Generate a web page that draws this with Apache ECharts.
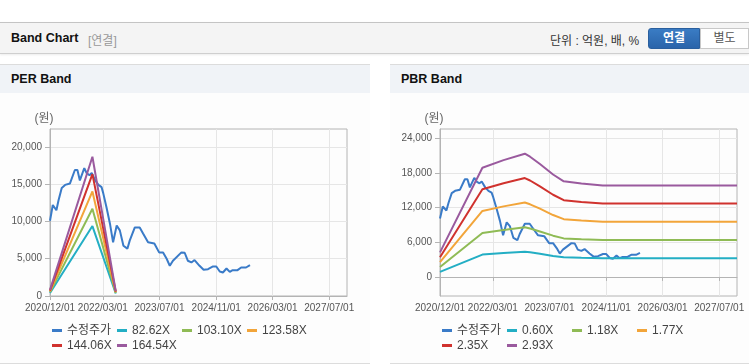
<!DOCTYPE html>
<html>
<head>
<meta charset="utf-8">
<script src="https://cdn.jsdelivr.net/npm/echarts@6/dist/echarts.min.js"></script>
<style>
    html, body { margin: 0; padding: 0; background: #fff; }
    body { width: 749px; height: 364px; overflow: hidden; position: relative;
           font-family: "Liberation Sans", Arial, "Noto Sans CJK KR", sans-serif; }
    .top { position: absolute; left: 0; top: 22px; width: 749px; height: 30px;
           background: #f4f4f4; border-top: 1px solid #c4c4c4; border-bottom: 1px solid #cfcfcf;
           box-shadow: 0 1px 2px rgba(0,0,0,.08); }
    .top .ttl { position: absolute; left: 11px; top: 8px; font-size: 12.5px; font-weight: bold; color: #111; }
    .top .sub { position: absolute; left: 88px; top: 8px; font-size: 12px; color: #999; }
    .top .unit { position: absolute; left: 550px; top: 8px; font-size: 12px; color: #333; }
    .top .btn { position: absolute; top: 5px; height: 19px; line-height: 19px; font-size: 12px; text-align: center; }
    .top .on { left: 648px; width: 52px; background: linear-gradient(#3a7cc4, #2a64aa); color: #fff;
               font-weight: bold; border-radius: 3px 0 0 3px; border: 1px solid #2a5f9e; box-sizing: border-box; height: 21px; }
    .top .off { left: 700px; width: 49px; background: #fff; color: #555; border: 1px solid #c8c8c8;
                box-sizing: border-box; height: 21px; }
    .panel { position: absolute; top: 64px; height: 298px; border-top: 1px solid #dcdcdc;
             border-bottom: 1px solid #dcdcdc; background: #fdfdfd; }
    .panel .ph { height: 28px; line-height: 28px; background: #f0f3f7; padding-left: 11px;
                 font-size: 12.5px; font-weight: bold; color: #111; }
    #p1 { left: 0; width: 370px; }
    #p2 { left: 390px; width: 359px; }
    .cv { position: absolute; left: 0; top: 29px; width: 100%; height: 269px; }
</style>
</head>
<body>
<div class="top">
    <span class="ttl">Band Chart</span><span class="sub">[연결]</span>
    <span class="unit">단위 : 억원, 배, %</span>
    <span class="btn on">연결</span><span class="btn off">별도</span>
</div>
<div class="panel" id="p1"><div class="ph">PER Band</div><div id="chartPer" class="cv"></div></div>
<div class="panel" id="p2"><div class="ph">PBR Band</div><div id="chartPbr" class="cv"></div></div>
<script>
//---- x축 ----
var axisStart = '2020/12/01';
var axisEnd = '2027/12/01';
var tickDates = ['2020/12/01', '2022/03/01', '2023/07/01', '2024/11/01', '2026/03/01', '2027/07/01'];

//---- 수정주가 ----
var priceDates = ['2020/12/01', '2020/12/25', '2021/01/25', '2021/02/12', '2021/03/12', '2021/04/10',
    '2021/05/22', '2021/06/06', '2021/07/03', '2021/07/25', '2021/08/15', '2021/09/01', '2021/09/22',
    '2021/10/12', '2021/11/06', '2021/11/25', '2021/12/25', '2022/01/22', '2022/02/18', '2022/03/04',
    '2022/04/01', '2022/05/01', '2022/05/28', '2022/06/28', '2022/07/25', '2022/08/25', '2022/09/28',
    '2022/10/18', '2022/12/01', '2023/01/12', '2023/02/10', '2023/03/25', '2023/05/18', '2023/06/03',
    '2023/06/28', '2023/08/01', '2023/09/01', '2023/09/28', '2023/10/25', '2024/01/06', '2024/02/03',
    '2024/03/01', '2024/04/01', '2024/04/28', '2024/06/10', '2024/07/15', '2024/08/22', '2024/10/04',
    '2024/11/01', '2024/12/01', '2024/12/28', '2025/01/28', '2025/02/25', '2025/03/22', '2025/05/03',
    '2025/06/03', '2025/07/15', '2025/08/18'];
var priceValues = [10100, 12200, 11500, 12800, 14500, 14900,
    15100, 15300, 16900, 16900, 15500, 15300, 17150,
    16500, 16200, 16500, 15500, 14900, 14600, 13800,
    11900, 9700, 7200, 9460, 8800, 6750, 6350,
    7430, 9200, 9200, 8380, 7200, 7030, 7100,
    5850, 5850, 5000, 4050, 4730, 5850, 5800,
    4730, 4500, 4820, 4050, 3510, 3600, 3960,
    3960, 3280, 3150, 3690, 3240, 3470, 3470,
    3820, 3820, 4150];

//---- PER Band ----
var perNames = ['82.62X', '103.10X', '123.58X', '144.06X', '164.54X'];
var perDates = ['2020/12/01', '2021/12/01', '2022/06/20'];
var per1 = [410, 9380, 330];
var per2 = [520, 11700, 410];
var per3 = [620, 14030, 490];
var per4 = [720, 16350, 580];
var per5 = [820, 18680, 660];
var perTicks = [0, 5000, 10000, 15000, 20000];

//---- PBR Band ----
var pbrNames = ['0.60X', '1.18X', '1.77X', '2.35X', '2.93X'];
var pbrDates = ['2020/12/01', '2021/12/01', '2022/06/01', '2022/12/01', '2023/01/15', '2023/04/10',
    '2023/08/01', '2023/11/01', '2024/04/01', '2024/10/01', '2027/12/01'];
var pbr1 = [870, 3870, 4140, 4370, 4260, 4000, 3630, 3390, 3310, 3240, 3240];
var pbr2 = [1710, 7610, 8140, 8590, 8380, 7870, 7140, 6670, 6510, 6370, 6370];
var pbr3 = [2570, 11420, 12210, 12890, 12570, 11810, 10710, 10000, 9770, 9560, 9560];
var pbr4 = [3410, 15160, 16220, 17110, 16690, 15670, 14220, 13280, 12970, 12690, 12690];
var pbr5 = [4250, 18900, 20220, 21330, 20800, 19540, 17730, 16550, 16170, 15820, 15820];
var pbrTicks = [0, 6000, 12000, 18000, 24000];

var lineColors = ['#3a7bc8', '#23aec4', '#8fbb55', '#f2a53a', '#d0322e', '#9a5a9e'];

function ts(s) {
    var p = s.split('/');
    return new Date(+p[0], +p[1] - 1, +p[2]).getTime();
}
function pad(n) { return n < 10 ? '0' + n : '' + n; }
function fmtDate(v) {
    var d = new Date(v);
    return d.getFullYear() + '/' + pad(d.getMonth() + 1) + '/' + pad(d.getDate());
}
function pairs(dates, values) {
    return dates.map(function (d, i) { return [ts(d), values[i]]; });
}

function renderBand(container, bandNames, bandDates, bandValues, yMin, yMax, yTicks) {
    var myChart = echarts.init(document.getElementById(container));
    var series = [{
        name: '수정주가',
        type: 'line',
        data: pairs(priceDates, priceValues)
    }];
    bandNames.forEach(function (nm, i) {
        series.push({ name: nm, type: 'line', data: pairs(bandDates, bandValues[i]) });
    });
    series.forEach(function (s, i) {
        s.showSymbol = false;
        s.symbol = 'none';
        s.color = lineColors[i];
        s.lineStyle = { width: 2, color: lineColors[i] };
    });

    var labelFont = { fontSize: 10, color: '#555', fontFamily: 'Liberation Sans, Arial, sans-serif' };
    var xTicks = tickDates.map(ts);
    // 라벨이 서로 붙어 있어서 짝/홀로 나눠 두 축에 그림 (겹침 숨김 방지)
    var xEven = xTicks.filter(function (v, i) { return i % 2 === 0; });
    var xOdd = xTicks.filter(function (v, i) { return i % 2 === 1; });
    var xBase = {
        type: 'value',
        min: ts(axisStart),
        max: ts(axisEnd),
        position: 'bottom'
    };
    var option = {
        animation: false,
        textStyle: { fontFamily: 'Liberation Sans, Arial, Noto Sans CJK KR, sans-serif' },
        grid: { left: 50, top: 35, width: 297, height: 167, show: true, borderColor: '#b4b4b4', borderWidth: 1 },
        legend: {
            data: ['수정주가'].concat(bandNames),
            left: 52, top: 229, width: 270, padding: 0,
            icon: 'rect', itemWidth: 10, itemHeight: 3, itemGap: 0,
            textStyle: { fontSize: 12, color: '#444', width: 50, lineHeight: 15 }
        },
        xAxis: [
            Object.assign({}, xBase, {
                axisLine: { lineStyle: { color: '#b4b4b4' } },
                axisTick: { show: true, length: 4, customValues: xTicks, lineStyle: { color: '#b4b4b4' } },
                axisLabel: Object.assign({ margin: 7, customValues: xEven, formatter: fmtDate }, labelFont),
                splitLine: { show: true, lineStyle: { color: '#e6e6e6' } }
            }),
            Object.assign({}, xBase, {
                axisLine: { show: false },
                axisTick: { show: false, customValues: xOdd },
                axisLabel: Object.assign({ margin: 7, customValues: xOdd, formatter: fmtDate }, labelFont),
                splitLine: { show: false }
            })
        ],
        yAxis: {
            type: 'value',
            min: yMin,
            max: yMax,
            name: '(원)',
            nameLocation: 'end',
            nameGap: 4,
            nameTextStyle: { fontSize: 12, color: '#666', padding: [0, 12, 0, 0] },
            axisLine: { show: true, lineStyle: { color: '#b4b4b4' } },
            axisTick: { show: true, length: 5, customValues: yTicks, lineStyle: { color: '#b4b4b4' } },
            axisLabel: Object.assign({ margin: 8, customValues: yTicks,
                formatter: function (v) { return echarts.format.addCommas(v); } }, labelFont),
            splitLine: { show: true, lineStyle: { color: '#e6e6e6' } }
        },
        series: series
    };
    myChart.setOption(option);
}

renderBand('chartPer', perNames, perDates, [per1, per2, per3, per4, per5], 0, 22400, perTicks);
renderBand('chartPbr', pbrNames, pbrDates, [pbr1, pbr2, pbr3, pbr4, pbr5], -3300, 25600, pbrTicks);
</script>
</body>
</html>
